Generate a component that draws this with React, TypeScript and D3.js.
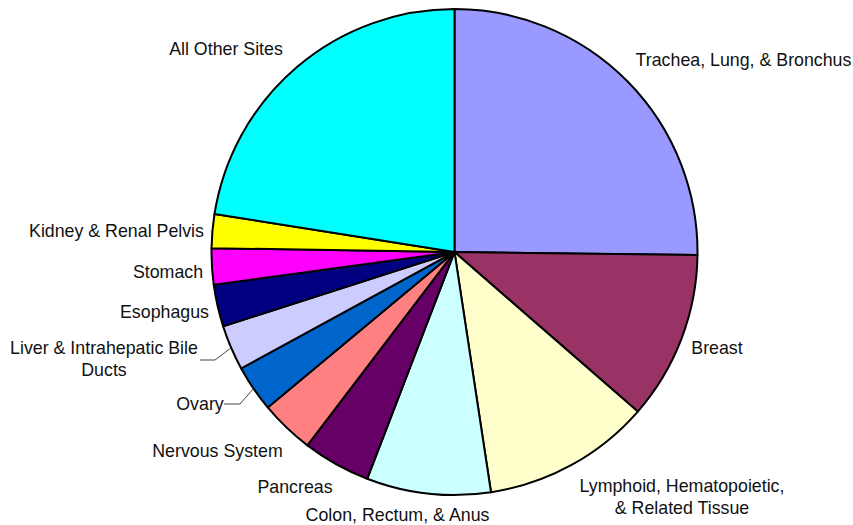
import React from "react";
import * as d3 from "d3";

// ---- data ----
const categories: string[] = [
  "Trachea, Lung, & Bronchus",
  "Breast",
  "Lymphoid, Hematopoietic, & Related Tissue",
  "Colon, Rectum, & Anus",
  "Pancreas",
  "Nervous System",
  "Ovary",
  "Liver & Intrahepatic Bile Ducts",
  "Esophagus",
  "Stomach",
  "Kidney & Renal Pelvis",
  "All Other Sites",
];
const values: number[] = [25.2, 11.2, 11.2, 8.25, 4.5, 3.6, 3.1, 3.0, 2.8, 2.4, 2.25, 22.5];
const labelLines: string[][] = [
  ["Trachea, Lung, & Bronchus"],
  ["Breast"],
  ["Lymphoid, Hematopoietic,", "& Related Tissue"],
  ["Colon, Rectum, & Anus"],
  ["Pancreas"],
  ["Nervous System"],
  ["Ovary"],
  ["Liver & Intrahepatic Bile", "Ducts"],
  ["Esophagus"],
  ["Stomach"],
  ["Kidney & Renal Pelvis"],
  ["All Other Sites"],
];

// ---- styles / layout ----
const colors: string[] = [
  "#9999FF", "#993366", "#FFFFCC", "#CCFFFF", "#660066", "#FF8080",
  "#0066CC", "#CCCCFF", "#000080", "#FF00FF", "#FFFF00", "#00FFFF",
];
const W = 853, H = 525;
const CX = 454.5, CY = 252, R = 243;
// label centre x and first baseline y
const labelPos: [number, number][] = [
  [743.5, 66], [717, 354], [682, 492], [397.5, 521], [295, 493], [217.5, 457],
  [200, 410], [104, 354], [164.5, 318], [168, 278], [116.5, 237], [226, 55],
];
// leader lines: [label-side x, knee x, knee y]
const leaders: Record<number, [number, number, number]> = {
  7: [200, 215, 360],
  6: [224, 240, 404],
};
const FONT = "'Liberation Sans', Arial, sans-serif";
const FS = 17.8;
const LH = 21.5;

export default function App() {
  const pie = d3.pie<number>().sort(null).value((d) => d);
  const arcs = pie(values);
  const arc = d3.arc<d3.PieArcDatum<number>>().innerRadius(0).outerRadius(R);

  return (
    <svg width={W} height={H} style={{ position: "absolute", left: 0, top: 0, background: "#fff" }}>
      <g transform={`translate(${CX},${CY})`}>
        {arcs.map((a, i) => (
          <path key={i} d={arc(a) || ""} fill={colors[i]} stroke="#000" strokeWidth={2} strokeLinejoin="round" />
        ))}
      </g>
      {arcs.map((a, i) => {
        const l = leaders[i];
        if (!l) return null;
        const mid = (a.startAngle + a.endAngle) / 2;
        const px = CX + Math.sin(mid) * R;
        const py = CY - Math.cos(mid) * R;
        return (
          <polyline key={"l" + i} points={`${l[0]},${l[2]} ${l[1]},${l[2]} ${px},${py}`}
            fill="none" stroke="#444" strokeWidth={1} />
        );
      })}
      {categories.map((c, i) => (
        <text key={"t" + i} x={labelPos[i][0]} y={labelPos[i][1]} textAnchor="middle"
          fontFamily={FONT} fontSize={FS} fill="#111">
          {labelLines[i].map((s, j) => (
            <tspan key={j} x={labelPos[i][0]} dy={j === 0 ? 0 : LH}>{s}</tspan>
          ))}
        </text>
      ))}
    </svg>
  );
}
